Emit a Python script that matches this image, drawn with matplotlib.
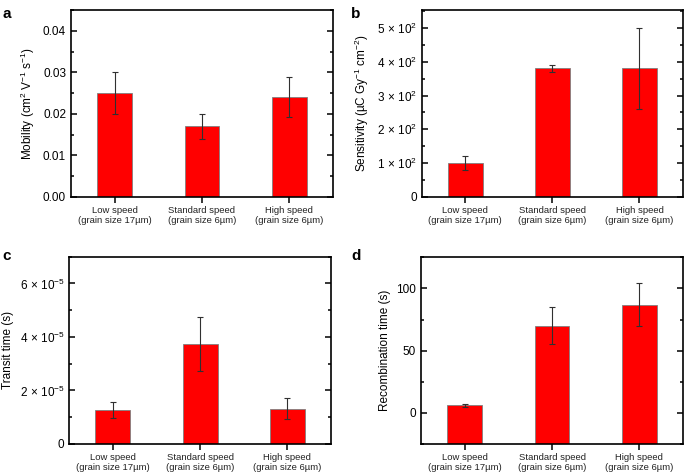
import matplotlib
matplotlib.use('Agg')
import matplotlib.pyplot as plt
from matplotlib.ticker import MultipleLocator, FuncFormatter

plt.rcParams['font.family'] = ['Liberation Sans', 'DejaVu Sans']
plt.rcParams['mathtext.fontset'] = 'custom'
plt.rcParams['mathtext.rm'] = 'Liberation Sans'
plt.rcParams['mathtext.it'] = 'Liberation Sans:italic'

categories = ['Low speed\n(grain size 17\u00b5m)',
              'Standard speed\n(grain size 6\u00b5m)',
              'High speed\n(grain size 6\u00b5m)']

mobility = [0.025, 0.017, 0.024]
mobility_err = [0.005, 0.003, 0.0048]

sensitivity = [100, 380, 380]
sensitivity_err = [20, 11, 120]

transit = [1.27e-5, 3.73e-5, 1.32e-5]
transit_err = [0.29e-5, 1.0e-5, 0.4e-5]

recomb = [6, 70, 87]
recomb_err = [1.2, 15, 17]


def sci_fmt(exp):
    def f(v, pos):
        m = v / 10**exp
        if abs(v) < 1e-12:
            return '0'
        return r'$%d\,\times\,10^{%d}$' % (round(m), exp)
    return f


def panel(ax, vals, errs, ylim, major, minor, ylabel, fmt=None):
    x = range(len(vals))
    base = ylim[0]
    heights = [v - base for v in vals]
    ax.bar(x, heights, width=0.4, bottom=base, color='#ff0000',
           edgecolor='#808080', linewidth=0.6, zorder=2)
    ax.errorbar(x, vals, yerr=errs, fmt='none', ecolor='#303030',
                elinewidth=0.8, capsize=2.5, capthick=0.8, zorder=3)
    ax.set_xlim(-0.5, 2.5)
    ax.set_ylim(*ylim)
    ax.set_xticks(list(x))
    ax.set_xticklabels(categories, fontsize=6.8, color='#222222', linespacing=1.15)
    ax.yaxis.set_major_locator(MultipleLocator(major))
    ax.yaxis.set_minor_locator(MultipleLocator(minor))
    if fmt is not None:
        ax.yaxis.set_major_formatter(FuncFormatter(fmt))
    ax.tick_params(axis='y', which='both', direction='in', left=True, right=True,
                   labelsize=8.5, width=1.1)
    ax.tick_params(axis='y', which='major', length=4.5)
    ax.tick_params(axis='y', which='minor', length=2.5)
    ax.tick_params(axis='x', which='both', direction='out', length=4, width=1.1,
                   top=False, pad=2.5)
    ax.tick_params(axis='x', which='minor', bottom=False)
    for s in ax.spines.values():
        s.set_linewidth(1.2)
    ax.set_ylabel(ylabel, fontsize=8.5)
    return ax


fig = plt.figure(figsize=(6.85, 4.75), dpi=100)

ax_a = fig.add_axes([0.1036, 0.5853, 0.3825, 0.3937])
panel(ax_a, mobility, mobility_err, (0, 0.045), 0.01, 0.005,
      r'Mobility (cm$^{2}$ V$^{-1}$ s$^{-1}$)',
      fmt=lambda v, p: '%.2f' % v)

ax_b = fig.add_axes([0.6156, 0.5853, 0.3815, 0.3937])
panel(ax_b, sensitivity, sensitivity_err, (0, 553), 100, 50,
      '\u00b5C'.join(['Sensitivity (', r' Gy$^{-1}$ cm$^{-2}$)']),
      fmt=sci_fmt(2))

ax_c = fig.add_axes([0.1012, 0.0653, 0.382, 0.3943])
panel(ax_c, transit, transit_err, (0, 7e-5), 2e-5, 1e-5,
      'Transit time (s)', fmt=sci_fmt(-5))

ax_d = fig.add_axes([0.6146, 0.0653, 0.3825, 0.3930])
panel(ax_d, recomb, recomb_err, (-25, 125), 50, 25,
      'Recombination time (s)', fmt=lambda v, p: '%d' % v)

# panel letters
fig.text(0.004, 0.985, 'a', fontsize=11, fontweight='bold', va='top')
fig.text(0.513, 0.985, 'b', fontsize=11, fontweight='bold', va='top')
fig.text(0.004, 0.475, 'c', fontsize=11, fontweight='bold', va='top')
fig.text(0.513, 0.475, 'd', fontsize=11, fontweight='bold', va='top')

fig.savefig('out.png', dpi=100)
